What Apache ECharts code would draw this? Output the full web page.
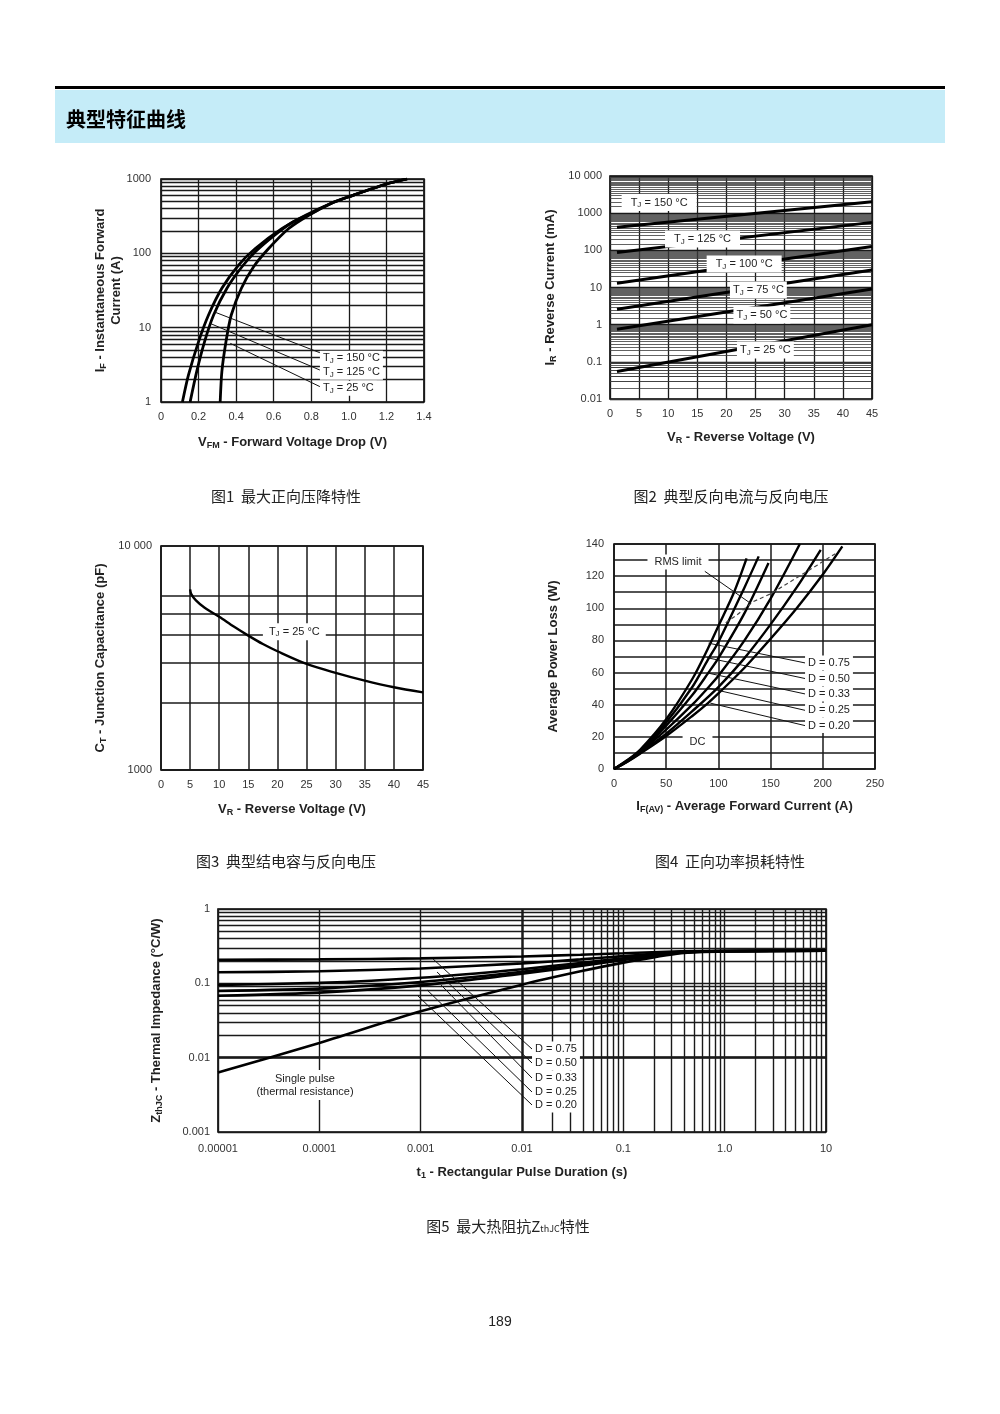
<!DOCTYPE html>
<html><head><meta charset="utf-8">
<script src="https://cdn.jsdelivr.net/npm/echarts@6/dist/echarts.min.js"></script>
<style>html,body{margin:0;padding:0;background:#fff}#c{width:1000px;height:1414px}</style>
</head><body><div id="c"></div>
<script>
// ---------------- DATA ----------------
// Figure 1: forward voltage drop (V) vs instantaneous forward current (A)
const f1_tj150 = [[0.114,1],[0.146,2.3],[0.2,6.5],[0.253,14.8],[0.324,33.9],[0.413,69.6],[0.502,116],[0.645,216],[0.77,326],[0.912,480],[1.0,578],[1.2,857],[1.31,1000]];
const f1_tj125 = [[0.155,1],[0.19,2.56],[0.232,6.5],[0.28,14.8],[0.351,33.9],[0.431,66],[0.502,105],[0.6,172],[0.7,262],[0.8,345],[0.912,480],[1.0,578],[1.2,857],[1.31,1000]];
const f1_tj25  = [[0.315,1],[0.324,2.56],[0.346,6.5],[0.374,14.8],[0.428,33.9],[0.493,66],[0.573,116],[0.68,216],[0.787,326],[0.9,462],[1.0,578],[1.2,857],[1.31,1000]];
const f1_leaders = [[[0.289,16.1],[0.846,4.6]], [[0.262,11.4],[0.846,2.69]], [[0.369,6.15],[0.846,1.61]]];
const f1_notes = [{at:[0.846,3.87], text:'T{s|J} = 150 °C'}, {at:[0.846,2.51], text:'T{s|J} = 125 °C'}, {at:[0.846,1.53], text:'T{s|J} = 25 °C'}];
const f1XLabels = ['0','0.2','0.4','0.6','0.8','1.0','1.2','1.4'];
const f1YLabels = ['1','10','100','1000'];

// Figure 2: reverse voltage (V) vs reverse current (mA)
const f2_tj150 = [[1.2,417],[45,2040]];
const f2_tj125 = [[1.2,87],[45,565]];
const f2_tj100 = [[1.2,13],[45,126]];
const f2_tj75  = [[1.2,2.6],[45,29.5]];
const f2_tj50  = [[1.2,0.75],[45,9.1]];
const f2_tj25  = [[1.2,0.055],[45,1.0]];
const f2_notes = [
  {at:[2.0,1937], text:'T{s|J} = 150 °C', wide:true},
  {at:[9.45,202], text:'T{s|J} = 125 °C', wide:true},
  {at:[16.6,42.9], text:'T{s|J} = 100 °C', wide:true},
  {at:[20.6,8.57], text:'T{s|J} = 75 °C'},
  {at:[21.2,1.82], text:'T{s|J} = 50 °C'},
  {at:[21.8,0.209], text:'T{s|J} = 25 °C'}];
const f2XLabels = ['0','5','10','15','20','25','30','35','40','45'];
const f2YLabels = ['0.01','0.1','1','10','100','1000','10 000'];

// Figure 3: reverse voltage (V) vs junction capacitance (pF)
const f3_ct = [[5,6400],[5.2,6100],[6,5720],[7.5,5300],[10,4830],[12.5,4370],[15,3980],[17.5,3650],[20,3390],[25,2975],[30,2715],[35,2505],[40,2340],[45,2220]];
const f3_notes = [{at:[17.5,4142], text:'T{s|J} = 25 °C'}];
const f3XLabels = f2XLabels;
const f3YLabels = ['1000','10 000'];
const f3HLines = [2000,3000,4000,5000,6000];

// Figure 4: average forward current (A) vs average power loss (W)
const f4_c1 = [[0,0],[12.5,5.4],[25,12],[50,31],[75,56],[90,75],[100,89],[115,110],[127,131]];
const f4_c2 = [[0,0],[12.5,5.2],[25,11.5],[50,29],[75,51],[90,68],[100,79],[125,113],[138.6,132.3]];
const f4_c3 = [[0,0],[12.5,5.0],[25,11],[50,27],[75,46],[90,59.5],[100,69],[125,97],[148,128.2]];
const f4_c4 = [[0,0],[12.5,4.8],[25,10.5],[50,24.5],[75,40],[90,50.5],[100,58],[125,80],[150,106],[178,140]];
const f4_c5 = [[0,0],[12.5,4.6],[25,10],[50,22],[75,36],[100,51],[125,69],[150,90],[175,113],[198,136.4]];
const f4_dc = [[0,0],[12.5,4.4],[25,9.5],[50,20.5],[75,33],[90,41],[100,47],[125,63],[150,81],[175,100],[200,121],[218.7,138.5]];
const f4_rms = [[107,91],[118,96],[133,104],[150,109],[165,115],[180,121],[195,127],[212,134]];
const f4_leaders = [[[87,123],[131,103]], [[90.6,78.3],[183,66]], [[89,69.3],[183,56.3]], [[90.6,59.6],[183,46.7]], [[90.6,50.3],[183,36.5]], [[92.2,41],[183,27]]];
const f4_centerNotes = [{at:[61.3,128.8], text:'RMS limit'}, {at:[80,16.8], text:'DC'}];
const f4_notes = [{at:[183,66], text:'D = 0.75'}, {at:[183,56.3], text:'D = 0.50'}, {at:[183,46.7], text:'D = 0.33'}, {at:[183,36.5], text:'D = 0.25'}, {at:[183,27], text:'D = 0.20'}];
const f4XLabels = ['0','50','100','150','200','250'];
const f4YLabels = ['0','20','40','60','80','100','120','140'];

// Figure 5: rectangular pulse duration (s) vs thermal impedance (°C/W)
const f5_single = [[1e-5,0.0063],[1e-4,0.0158],[1e-3,0.042],[1e-2,0.096],[0.0378,0.145],[0.1,0.19],[0.37,0.255],[1,0.269],[10,0.275]];
const f5_d075 = [[1e-5,0.2076],[1e-4,0.210],[1e-3,0.2165],[1e-2,0.230],[0.0378,0.242],[0.1,0.2535],[0.37,0.27],[1,0.273],[10,0.275]];
const f5_d050 = [[1e-5,0.1407],[1e-4,0.1454],[1e-3,0.1585],[1e-2,0.1855],[0.0378,0.210],[0.1,0.2325],[0.37,0.265],[1,0.272],[10,0.275]];
const f5_d033 = [[1e-5,0.095],[1e-4,0.1014],[1e-3,0.119],[1e-2,0.155],[0.0378,0.188],[0.1,0.218],[0.37,0.262],[1,0.271],[10,0.275]];
const f5_d025 = [[1e-5,0.079],[1e-4,0.085],[1e-3,0.104],[1e-2,0.143],[0.0378,0.178],[0.1,0.212],[0.37,0.26],[1,0.270],[10,0.275]];
const f5_d020 = [[1e-5,0.068],[1e-4,0.075],[1e-3,0.094],[1e-2,0.135],[0.0378,0.171],[0.1,0.207],[0.37,0.259],[1,0.270],[10,0.275]];
const f5_leaders = [[[0.001325,0.2124],[0.01256,0.01307]], [[0.00145,0.142],[0.01256,0.00848]], [[0.00159,0.095],[0.01256,0.00532]], [[0.00116,0.0813],[0.01256,0.00345]], [[0.000942,0.0675],[0.01256,0.00231]]];
const f5_notes = [{at:[0.01256,0.01307], text:'D = 0.75'}, {at:[0.01256,0.00848], text:'D = 0.50'}, {at:[0.01256,0.00532], text:'D = 0.33'}, {at:[0.01256,0.00345], text:'D = 0.25'}, {at:[0.01256,0.00231], text:'D = 0.20'}];
const f5_centerNotes = [{at:[7.22e-5,0.00429], text:'Single pulse\n(thermal resistance)'}];
const f5XLabels = ['0.00001','0.0001','0.001','0.01','0.1','1.0','10'];
const f5YLabels = ['0.001','0.01','0.1','1'];

const MINOR = [2,3,4,5,6,7,8,9];
const HALF = [1.5,2,2.5,3,3.5,4,4.5,5,5.5,6,6.5,7,7.5,8,8.5,9,9.5];
const decadeLines = (decades, f) => decades.flatMap(d => f.map(m => +(m*d).toPrecision(6)));

const captions = ['图1  最大正向压降特性','图2  典型反向电流与反向电压','图3  典型结电容与反向电压','图4  正向功率损耗特性','图5  最大热阻抗Z{sub|thJC}特性'];

// ---------------- STYLE / BUILD ----------------
const FONT = '"Liberation Sans", Arial, Helvetica, sans-serif';
const CJK = '"Noto Sans CJK SC", "Noto Sans", sans-serif';
const INK = '#1a1a1a';
const SUB11 = {s:{fontSize:8, lineHeight:6, verticalAlign:'bottom', color:'#222', fontFamily:FONT}};
const TRICH = {
  b:{fontSize:13, fontWeight:'bold', color:'#222', fontFamily:FONT, lineHeight:16},
  bs:{fontSize:9, fontWeight:'bold', color:'#222', fontFamily:FONT, lineHeight:8, verticalAlign:'bottom'}
};
const logFmt = (labels, minExp) => v => { const i = Math.round(Math.log10(v)) - minExp; return labels[i] !== undefined ? labels[i] : ''; };

function gridBox(l,t,w,h){ return {left:l, top:t, width:w, height:h, show:true, borderColor:'#000', borderWidth:1.6, backgroundColor:'transparent', containLabel:false, outerBoundsMode:'none'}; }
function axis(gi, extra, labelExtra, lw){
  return Object.assign({
    gridIndex:gi, axisLine:{show:false}, axisTick:{show:false},
    axisLabel:Object.assign({color:'#333', fontSize:11, fontFamily:FONT, margin:8}, labelExtra||{}),
    splitLine:{show:true, lineStyle:{color:INK, width:lw||1.3}},
    nameLocation:'middle', nameTextStyle:{rich:TRICH}
  }, extra);
}
function gridLines(idx, h, v, style){
  return {type:'line', xAxisIndex:idx, yAxisIndex:idx, data:[], silent:true, z:1,
    markLine:{silent:true, z:1, symbol:['none','none'], animation:false, label:{show:false},
      lineStyle:Object.assign({color:INK, width:1.2, type:'solid'}, style||{}), emphasis:{disabled:true},
      data:[...h.map(y=>({yAxis:y})), ...v.map(x=>({xAxis:x}))]}};
}
function curve(idx, data, w, smooth){
  return {type:'line', xAxisIndex:idx, yAxisIndex:idx, data, symbol:'none', smooth: smooth===undefined?0.3:smooth,
    lineStyle:{color:'#000', width:w}, z:3, silent:true, clip:true};
}
function segs(idx, list, style){
  return list.map(d => ({type:'line', xAxisIndex:idx, yAxisIndex:idx, data:d, symbol:'none',
    lineStyle:Object.assign({color:'#111', width:1}, style||{}), z:4, silent:true}));
}
function notes(idx, items, position, pad){
  return {type:'scatter', xAxisIndex:idx, yAxisIndex:idx, symbolSize:0, silent:true, z:10,
    itemStyle:{color:'#fff', opacity:1},
    data: items.map(it => ({value:it.at, label:{formatter:it.text, padding: it.wide ? [2,9] : pad}})),
    label:{show:true, position, distance:0, backgroundColor:'#fff', opacity:1, color:'#222', fontSize:11, fontFamily:FONT, lineHeight:13,
      align: position==='inside' ? 'center' : 'left', verticalAlign:'middle', rich:SUB11}};
}

const option = {
  animation:false,
  backgroundColor:'#fff',
  grid:[ gridBox(161,179,263,223), gridBox(610,176,262,223), gridBox(161,546,262,224), gridBox(614,544,261,225), gridBox(218,909,608,223) ],
  xAxis:[
    axis(0,{type:'value', min:0, max:1.4, interval:0.2, name:'{b|V}{bs|FM}{b| - Forward Voltage Drop (V)}', nameGap:32},
      {margin:9, formatter:v => f1XLabels[Math.round(v/0.2)]}),
    axis(1,{type:'value', min:0, max:45, interval:5, name:'{b|V}{bs|R}{b| - Reverse Voltage (V)}', nameGap:30},
      {margin:9, formatter:v => f2XLabels[Math.round(v/5)]}),
    axis(2,{type:'value', min:0, max:45, interval:5, name:'{b|V}{bs|R}{b| - Reverse Voltage (V)}', nameGap:31},
      {margin:9, formatter:v => f3XLabels[Math.round(v/5)]}, 1.5),
    axis(3,{type:'value', min:0, max:250, interval:50, name:'{b|I}{bs|F(AV)}{b| - Average Forward Current (A)}', nameGap:29},
      {margin:9, formatter:v => f4XLabels[Math.round(v/50)]}, 1.5),
    axis(4,{type:'log', logBase:10, min:1e-5, max:10, name:'{b|t}{bs|1}{b| - Rectangular Pulse Duration (s)}', nameGap:32},
      {margin:11, formatter:logFmt(f5XLabels,-5)}, 1.4)
  ],
  yAxis:[
    axis(0,{type:'log', logBase:10, min:1, max:1000, name:'{b|I}{bs|F}{b| - Instantaneous Forward}\n{b|Current (A)}', nameRotate:90, nameGap:37},
      {margin:10, formatter:logFmt(f1YLabels,0)}),
    axis(1,{type:'log', logBase:10, min:0.01, max:10000, name:'{b|I}{bs|R}{b| - Reverse Current (mA)}', nameRotate:90, nameGap:52},
      {margin:8, formatter:logFmt(f2YLabels,-2)}),
    axis(2,{type:'log', logBase:10, min:1000, max:10000, name:'{b|C}{bs|T}{b| - Junction Capacitance (pF)}', nameRotate:90, nameGap:53},
      {margin:9, formatter:logFmt(f3YLabels,3)}, 1.5),
    axis(3,{type:'value', min:0, max:140, interval:10, name:'{b|Average Power Loss (W)}', nameRotate:90, nameGap:53},
      {margin:10, formatter:v => (Math.round(v)%20===0 ? f4YLabels[Math.round(v)/20] : '')}, 1.5),
    axis(4,{type:'log', logBase:10, min:0.001, max:1, name:'{b|Z}{bs|thJC}{b| - Thermal Impedance (°C/W)}', nameRotate:90, nameGap:54},
      {margin:8, formatter:logFmt(f5YLabels,-3)}, 1.4)
  ],
  series:[
    gridLines(0, decadeLines([1,10,100], MINOR), [], {width:1.3}),
    gridLines(1, decadeLines([0.01,0.1,1,10,100,1000], HALF), [], {width:0.8, color:'#3a3a3a'}),
    gridLines(2, f3HLines, [], {width:1.5}),
    gridLines(4, decadeLines([0.001,0.01,0.1], MINOR), decadeLines([1e-5,1e-4,1e-3,1e-2,0.1,1], MINOR), {width:1.4}),
    // fig 1
    curve(0, f1_tj150, 2.8, 0.25), curve(0, f1_tj125, 2.8, 0.25), curve(0, f1_tj25, 2.8, 0.25),
    ...segs(0, f1_leaders),
    notes(0, f1_notes, 'right', [1,3]),
    // fig 2
    curve(1, f2_tj150, 3, false), curve(1, f2_tj125, 3, false), curve(1, f2_tj100, 3, false),
    curve(1, f2_tj75, 3, false), curve(1, f2_tj50, 3, false), curve(1, f2_tj25, 3, false),
    notes(1, f2_notes, 'right', [2,3]),
    // fig 3
    curve(2, f3_ct, 2.4, 0.3),
    notes(2, f3_notes, 'right', [2,6]),
    // fig 4
    curve(3, f4_c1, 2.4), curve(3, f4_c2, 2.4), curve(3, f4_c3, 2.4), curve(3, f4_c4, 2.4), curve(3, f4_c5, 2.4), curve(3, f4_dc, 2.4),
    ...segs(3, [f4_rms], {type:[4,3], width:1.2, color:'#444'}),
    ...segs(3, f4_leaders),
    notes(3, f4_centerNotes, 'inside', [1,7]),
    notes(3, f4_notes, 'right', [1,3]),
    // fig 5
    curve(4, f5_single, 2.6, 0.2), curve(4, f5_d075, 2.6, 0.2), curve(4, f5_d050, 2.6, 0.2),
    curve(4, f5_d033, 2.6, 0.2), curve(4, f5_d025, 2.6, 0.2), curve(4, f5_d020, 2.6, 0.2),
    ...segs(4, f5_leaders),
    notes(4, f5_notes, 'right', [1,3]),
    notes(4, f5_centerNotes, 'inside', [2,5])
  ],
  graphic:[
    {type:'rect', shape:{x:55,y:86,width:890,height:3}, style:{fill:'#000'}, silent:true},
    {type:'rect', shape:{x:55,y:90,width:890,height:53}, style:{fill:'#c5ecf8'}, silent:true},
    {type:'text', x:66, y:119, silent:true, style:{text:'典型特征曲线', fill:'#000', font:'bold 20px '+CJK, textVerticalAlign:'middle', verticalAlign:'middle'}},
    {type:'text', x:286, y:496, silent:true, style:{text:captions[0], fill:'#222', font:'15px '+CJK, textAlign:'center', align:'center', textVerticalAlign:'middle', verticalAlign:'middle'}},
    {type:'text', x:731, y:496, silent:true, style:{text:captions[1], fill:'#222', font:'15px '+CJK, textAlign:'center', align:'center', textVerticalAlign:'middle', verticalAlign:'middle'}},
    {type:'text', x:286, y:861, silent:true, style:{text:captions[2], fill:'#222', font:'15px '+CJK, textAlign:'center', align:'center', textVerticalAlign:'middle', verticalAlign:'middle'}},
    {type:'text', x:730, y:861, silent:true, style:{text:captions[3], fill:'#222', font:'15px '+CJK, textAlign:'center', align:'center', textVerticalAlign:'middle', verticalAlign:'middle'}},
    {type:'text', x:508, y:1226, silent:true, style:{text:captions[4], fill:'#222', font:'15px '+CJK, textAlign:'center', align:'center', textVerticalAlign:'middle', verticalAlign:'middle',
      rich:{sub:{fontSize:9, fontFamily:CJK, fill:'#222', color:'#222', lineHeight:6, verticalAlign:'bottom'}}}},
    {type:'text', x:500, y:1322, silent:true, style:{text:'189', fill:'#222', font:'14px '+FONT, textAlign:'center', align:'center', textVerticalAlign:'middle', verticalAlign:'middle'}}
  ]
};
const chart = echarts.init(document.getElementById('c'), null, {renderer:'canvas', width:1000, height:1414});
chart.setOption(option);
</script></body></html>
